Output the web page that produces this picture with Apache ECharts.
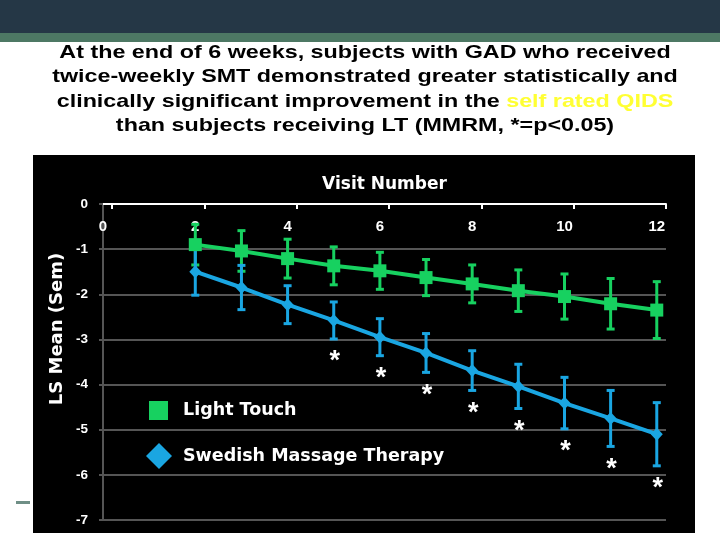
<!DOCTYPE html>
<html>
<head>
<meta charset="utf-8">
<script src="https://cdn.jsdelivr.net/npm/echarts@6/dist/echarts.min.js"></script>
<style>
  html, body { margin: 0; padding: 0; background: #fff; }
  #chart { width: 720px; height: 540px; }
</style>
</head>
<body>
<div id="chart"></div>
<script>
// 数据：访视编号与 LS 均值 / 标准误
const visits = [2, 3, 4, 5, 6, 7, 8, 9, 10, 11, 12];
const ltMean = [-0.90, -1.04, -1.21, -1.37, -1.48, -1.63, -1.77, -1.92, -2.05, -2.21, -2.35];
const ltSem = [0.45, 0.45, 0.43, 0.42, 0.41, 0.40, 0.42, 0.46, 0.50, 0.56, 0.63];
const smtMean = [-1.50, -1.85, -2.23, -2.58, -2.95, -3.30, -3.69, -4.04, -4.41, -4.75, -5.10];
const smtSem = [0.52, 0.49, 0.42, 0.41, 0.41, 0.43, 0.44, 0.49, 0.57, 0.62, 0.70];
const significant = [0, 0, 0, 1, 1, 1, 1, 1, 1, 1, 1];
const xTickLabels = [0, 2, 4, 6, 8, 10, 12];
const xTickMarks = [0.2, 2.2, 4.2, 6.2, 8.2, 10.2, 12.2];

const GREEN = '#17d160';
const BLUE = '#1aa6e2';
const FONT = '"Liberation Sans", Arial, sans-serif';
const WIDE = '"DejaVu Sans", sans-serif';

const chart = echarts.init(document.getElementById('chart'));

const linePoints = (means) => visits.map((v, i) => [v, means[i]]);
const barPoints = (means, sems) => visits.map((v, i) => [v, means[i] - sems[i], means[i] + sems[i], significant[i]]);

// 误差线（带星号）
const errorBars = (color, stars) => (params, api) => {
  const x = api.value(0);
  const top = api.coord([x, api.value(2)]);
  const bot = api.coord([x, api.value(1)]);
  const cap = 4;
  const st = { stroke: color, lineWidth: 3 };
  const children = [
    { type: 'line', shape: { x1: top[0], y1: top[1], x2: bot[0], y2: bot[1] }, style: st },
    { type: 'line', shape: { x1: top[0] - cap, y1: top[1], x2: top[0] + cap, y2: top[1] }, style: st },
    { type: 'line', shape: { x1: bot[0] - cap, y1: bot[1], x2: bot[0] + cap, y2: bot[1] }, style: st }
  ];
  if (stars && api.value(3)) {
    children.push({
      type: 'text', x: bot[0] + 1, y: bot[1] + 23,
      style: { text: '*', fill: '#fff', font: 'bold 27px ' + FONT, align: 'center', verticalAlign: 'middle' }
    });
  }
  return { type: 'group', children };
};

const titleLine = (text, y) => ({
  type: 'text', x: 365, y: y, scaleX: 1.26,
  style: {
    text: text, fill: '#000', font: 'bold 18.5px ' + FONT,
    align: 'center', verticalAlign: 'middle',
    rich: { y: { fill: '#ffff33', font: 'bold 18.5px ' + FONT } }
  }
});

const option = {
  backgroundColor: '#fff',
  animation: false,
  graphic: [
    { type: 'rect', z: -100, shape: { x: 0, y: 0, width: 720, height: 33 }, style: { fill: '#253746' } },
    { type: 'rect', z: -100, shape: { x: 0, y: 33, width: 720, height: 9 }, style: { fill: '#4d7864' } },
    { type: 'rect', z: -100, shape: { x: 33, y: 155, width: 662, height: 378 }, style: { fill: '#000' } },
    { type: 'rect', z: -100, shape: { x: 16, y: 501, width: 14, height: 3 }, style: { fill: '#6f8f86' } },
    titleLine('At the end of 6 weeks, subjects with GAD who received', 53),
    titleLine('twice-weekly SMT demonstrated greater statistically and', 77),
    titleLine('clinically significant improvement in the {y|self rated QIDS}', 101.5),
    titleLine('than subjects receiving LT (MMRM, *=p<0.05)', 125.5),
    {
      type: 'text', x: 57, y: 329, rotation: Math.PI / 2,
      style: { text: 'LS Mean (Sem)', fill: '#fff', font: 'bold 18px ' + WIDE, align: 'center', verticalAlign: 'middle' }
    }
  ],
  legend: [
    {
      data: [{ name: 'Light Touch', icon: 'rect' }],
      left: 149, top: 401, padding: 0, itemWidth: 19, itemHeight: 19,
      selectedMode: false,
      textStyle: { color: '#fff', fontFamily: WIDE, fontWeight: 'bold', fontSize: 17.5, padding: [0, 0, 0, 10] }
    },
    {
      data: [{ name: 'Swedish Massage Therapy', icon: 'diamond' }],
      left: 146, top: 443, padding: 0, itemWidth: 26, itemHeight: 26,
      selectedMode: false,
      textStyle: { color: '#fff', fontFamily: WIDE, fontWeight: 'bold', fontSize: 17.5, padding: [0, 0, 0, 6] }
    }
  ],
  grid: { left: 103, right: 54, top: 204, bottom: 20, outerBoundsMode: 'none' },
  xAxis: {
    type: 'value', position: 'top', min: 0, max: 12.2,
    name: 'Visit Number', nameLocation: 'middle', nameGap: 11,
    nameTextStyle: { color: '#fff', fontFamily: WIDE, fontWeight: 'bold', fontSize: 17 },
    axisLine: { lineStyle: { color: '#fff', width: 2 } },
    axisTick: { inside: true, length: 5, customValues: xTickMarks, lineStyle: { color: '#fff', width: 2 } },
    axisLabel: {
      inside: true, margin: 15, customValues: xTickLabels,
      color: '#fff', fontFamily: FONT, fontWeight: 'bold', fontSize: 15
    },
    splitLine: { show: false }
  },
  yAxis: {
    type: 'value', min: -7, max: 0, interval: 1,
    axisLine: { show: true, lineStyle: { color: '#555', width: 2 } },
    axisTick: { show: true, length: 4, lineStyle: { color: '#555', width: 2 } },
    axisLabel: { margin: 15, color: '#fff', fontFamily: FONT, fontWeight: 'bold', fontSize: 13.5 },
    splitLine: { lineStyle: { color: '#555', width: 2 } }
  },
  series: [
    {
      type: 'custom', name: 'LT error', z: 3, clip: false,
      renderItem: errorBars(GREEN, false),
      encode: { x: 0, y: [1, 2] },
      data: barPoints(ltMean, ltSem)
    },
    {
      type: 'custom', name: 'SMT error', z: 3, clip: false,
      renderItem: errorBars(BLUE, true),
      encode: { x: 0, y: [1, 2] },
      data: barPoints(smtMean, smtSem)
    },
    {
      name: 'Light Touch', type: 'line', z: 4,
      data: linePoints(ltMean),
      symbol: 'rect', symbolSize: 13,
      itemStyle: { color: GREEN },
      lineStyle: { color: GREEN, width: 4 }
    },
    {
      name: 'Swedish Massage Therapy', type: 'line', z: 4,
      data: linePoints(smtMean),
      symbol: 'diamond', symbolSize: [12, 13],
      itemStyle: { color: BLUE },
      lineStyle: { color: BLUE, width: 4 }
    }
  ]
};

chart.setOption(option);
</script>
</body>
</html>
